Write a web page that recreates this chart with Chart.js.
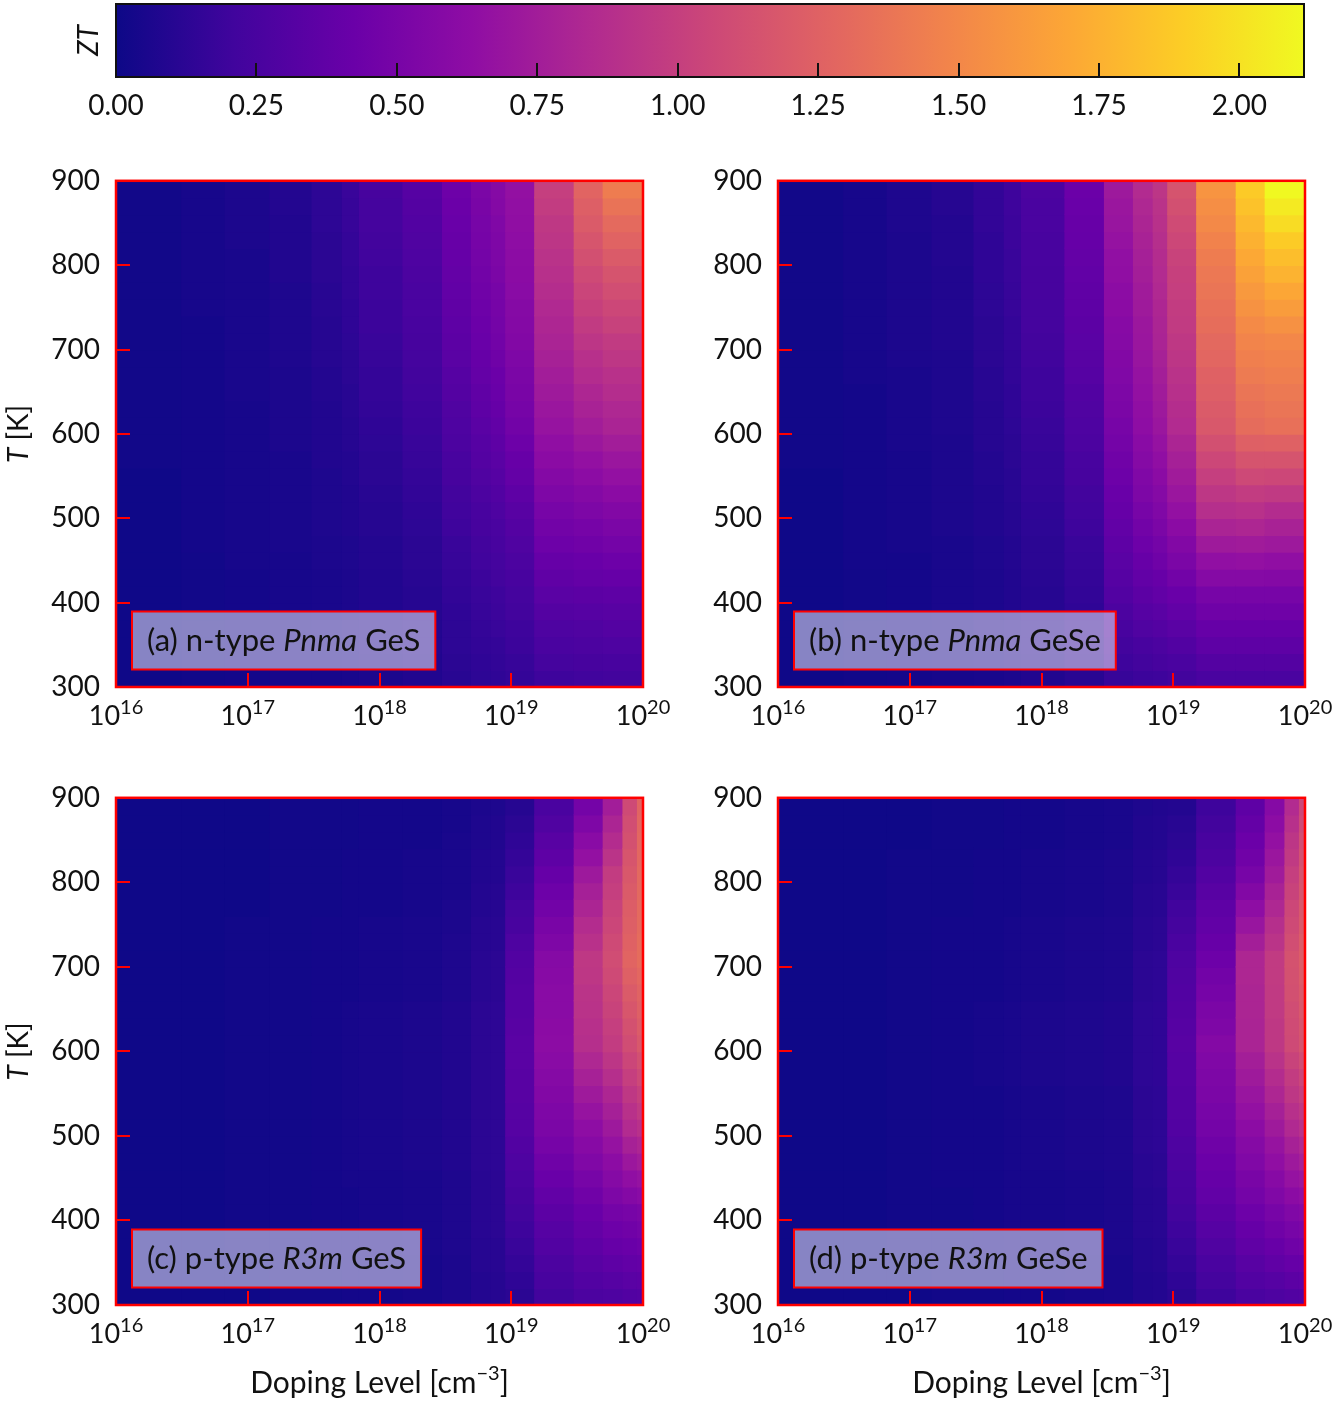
<!DOCTYPE html>
<html>
<head>
<meta charset="utf-8">
<title>ZT maps</title>
<script src="https://cdn.jsdelivr.net/npm/chart.js@4.4.1/dist/chart.umd.min.js"></script>
<style>
  html, body { margin: 0; padding: 0; background: #fff; overflow: hidden; }
  body { width: 1336px; height: 1402px; position: relative; }
  canvas { position: absolute; }
</style>
</head>
<body>
<canvas id="cbar" width="1336" height="140" style="left:0;top:0"></canvas>
<canvas id="panelA" width="700" height="636" style="left:0;top:134px"></canvas>
<canvas id="panelB" width="674" height="636" style="left:662px;top:134px"></canvas>
<canvas id="panelC" width="700" height="651" style="left:0;top:751px"></canvas>
<canvas id="panelD" width="674" height="651" style="left:662px;top:751px"></canvas>
<script>
// temperature row centres (K), 20 K wide rows
const temps = [310, 330, 350, 370, 390, 410, 430, 450, 470, 490, 510, 530, 550, 570, 590,
               610, 630, 650, 670, 690, 710, 730, 750, 770, 790, 810, 830, 850, 870, 890];
const tempTicks = [300, 400, 500, 600, 700, 800, 900];
const dopingTicks = [16, 17, 18, 19, 20];          // log10(cm^-3)
const cbarTicks = [0, 0.25, 0.5, 0.75, 1, 1.25, 1.5, 1.75, 2];
const zMax = 2.115;

// doping bin edges, log10(cm^-3)
const nEdges = [16, 16.5, 16.83, 17.17, 17.49, 17.72, 17.85, 18.18, 18.48, 18.7, 18.85, 18.96, 19.18, 19.48, 19.7, 20];
const pEdges = [16, 16.5, 16.83, 17.17, 17.49, 17.72, 17.85, 18.18, 18.48, 18.7, 18.85, 18.96, 19.18, 19.48, 19.7, 19.85, 19.96, 20];

// ZT x 100, one list per doping column, from 310 K up to 890 K
const ztA = [
  [1,1,1,1,1,1,1,1,1,1,1,1,1,2,2,2,2,2,2,2,2,2,2,2,2,2,2,2,2,2],
  [2,2,2,2,2,2,2,2,3,3,3,3,3,3,3,3,3,3,3,3,3,3,4,4,4,4,4,4,4,4],
  [3,3,3,3,3,3,3,4,4,4,4,4,4,4,4,4,4,5,5,5,5,5,5,5,5,5,6,6,6,6],
  [4,4,4,4,4,4,4,4,5,5,5,5,5,5,6,6,6,6,6,7,7,7,7,7,8,8,8,8,9,9],
  [4,4,4,5,5,5,5,6,6,7,7,7,7,8,8,8,8,9,9,10,10,10,11,11,12,12,12,13,13,13],
  [5,5,5,6,6,6,6,7,7,8,8,8,9,9,10,10,11,11,12,12,13,14,14,15,15,16,16,17,17,18],
  [6,6,7,7,8,8,8,9,9,10,10,11,12,12,13,14,15,16,16,17,18,19,19,20,20,21,22,23,23,24],
  [8,8,9,9,10,10,11,12,12,13,14,15,16,17,18,19,20,21,22,23,24,25,26,26,27,28,29,30,31,32],
  [11,12,13,13,14,15,16,17,18,20,21,22,24,25,27,28,29,31,32,34,35,36,37,38,39,40,41,42,43,44],
  [13,14,15,16,17,18,19,21,22,24,25,27,29,31,32,34,36,37,39,40,42,43,44,46,47,48,49,50,51,52],
  [14,15,16,18,19,20,22,23,25,26,28,30,32,34,36,38,40,42,43,45,47,48,49,50,52,53,54,55,57,58],
  [16,17,19,20,22,23,25,27,29,31,33,36,39,41,44,47,49,51,52,54,56,57,58,60,61,62,63,64,65,66],
  [20,23,26,28,31,34,37,40,44,47,50,54,57,61,64,68,70,73,75,78,80,82,84,87,89,91,93,95,98,100],
  [21,24,27,29,32,35,39,42,46,49,53,57,62,66,71,75,79,82,86,89,93,97,101,104,108,112,116,120,123,127],
  [22,25,28,31,33,36,40,44,48,52,56,61,66,70,75,80,83,87,90,94,97,102,106,111,115,120,126,131,137,143]
];
const ztB = [
  [1,1,1,1,1,1,1,1,1,1,1,1,1,2,2,2,2,2,2,2,2,2,2,2,2,2,2,2,2,2],
  [2,2,2,2,2,2,2,3,3,3,3,3,3,3,3,3,3,3,4,4,4,4,4,4,4,4,4,4,4,4],
  [3,3,3,3,3,3,3,3,4,4,4,4,4,4,5,5,5,5,5,6,6,6,6,6,6,6,6,7,7,7],
  [4,4,4,4,5,5,5,5,5,6,6,6,6,6,6,7,7,7,7,7,8,8,8,8,8,9,9,9,10,10],
  [5,5,5,6,6,6,6,7,7,8,8,8,9,9,10,10,10,11,11,12,12,12,13,13,14,14,14,15,15,15],
  [6,6,7,7,8,8,8,9,9,10,10,11,11,12,12,13,14,14,15,15,16,16,17,17,18,18,19,19,20,20],
  [8,8,9,9,10,10,11,12,12,13,14,15,16,16,17,18,19,20,20,21,22,23,23,24,24,25,25,26,26,27],
  [11,12,13,13,14,15,16,17,18,20,21,22,24,25,27,28,29,30,32,33,34,35,36,37,38,39,40,41,42,43],
  [17,20,22,25,27,30,32,34,36,38,40,42,44,46,48,50,52,53,55,56,58,59,61,62,64,65,67,69,70,72],
  [19,22,25,29,32,35,38,41,44,47,50,53,55,58,60,63,64,66,67,69,70,71,73,74,76,77,79,81,83,85],
  [20,24,27,31,34,38,41,45,48,52,55,58,61,64,67,70,72,74,76,78,80,81,82,84,85,86,88,90,91,93],
  [22,26,30,34,38,42,47,52,56,61,66,70,74,77,81,85,87,89,91,93,95,97,98,100,101,103,106,109,112,115],
  [26,31,36,40,45,50,58,65,73,80,88,94,100,106,112,118,120,123,125,128,130,133,135,138,140,143,147,151,154,158],
  [26,31,36,40,45,50,58,66,74,82,90,98,107,115,124,132,135,138,142,145,148,152,157,161,166,170,175,179,184,188],
  [26,31,36,40,45,50,57,64,72,79,86,96,106,115,125,135,138,141,144,147,150,156,163,169,176,182,189,197,204,211]
];
const ztC = [
  [1,1,1,1,1,1,1,1,1,1,1,1,1,1,1,1,1,1,1,1,1,1,1,1,1,1,1,1,1,1],
  [1,1,1,1,1,1,1,1,1,1,1,1,1,1,1,1,1,1,1,1,1,1,1,1,1,1,1,1,1,1],
  [1,1,1,2,2,2,2,2,2,2,2,2,2,2,2,2,2,2,2,2,2,2,2,1,1,1,1,1,1,1],
  [2,2,2,2,2,2,2,2,2,2,2,2,2,2,2,2,2,2,2,2,2,2,2,2,2,2,2,2,2,2],
  [2,2,2,3,3,3,3,3,3,3,3,3,3,3,3,3,3,3,3,3,3,3,3,2,2,2,2,2,2,2],
  [3,3,3,3,3,3,3,4,4,4,4,4,4,4,4,4,4,4,3,3,3,3,3,3,3,3,3,2,2,2],
  [3,3,3,4,4,4,4,4,5,5,5,5,5,5,5,5,5,5,4,4,4,4,4,3,3,3,3,3,3,3],
  [4,4,4,5,5,5,5,5,6,6,6,6,6,6,6,6,6,6,5,5,5,5,5,4,4,4,4,3,3,3],
  [6,6,6,7,7,7,7,7,8,8,8,8,8,8,8,8,8,8,7,7,7,7,6,6,5,5,5,5,4,4],
  [9,9,10,10,11,11,11,11,12,12,12,12,12,12,12,12,12,12,11,11,11,10,10,9,9,8,8,7,7,6],
  [10,10,11,11,12,12,12,12,13,13,13,13,13,13,13,13,13,13,12,12,12,11,11,10,10,9,9,8,8,7],
  [12,14,16,18,20,22,24,26,28,30,32,32,33,33,34,34,33,32,32,31,30,28,25,23,20,18,16,14,12,10],
  [22,25,27,30,32,35,38,42,45,49,52,54,56,58,60,62,61,60,60,59,58,54,51,47,44,40,36,33,29,26],
  [27,30,33,36,39,42,46,50,55,59,63,68,73,78,83,88,89,91,92,94,95,90,86,81,77,72,66,60,54,48],
  [28,32,36,40,44,48,53,58,62,67,72,77,82,88,93,98,100,103,105,108,110,108,105,103,100,98,92,86,81,75],
  [30,34,38,42,46,50,57,64,71,78,85,90,95,100,105,110,113,117,120,124,127,125,123,122,120,118,116,113,111,108],
  [31,35,39,44,48,52,60,67,75,82,90,96,101,107,112,118,121,124,126,129,132,132,131,131,130,130,129,129,128,127]
];
const ztD = [
  [1,1,1,1,1,1,1,1,1,1,1,1,1,1,1,1,1,1,1,1,1,1,1,1,1,1,1,1,1,1],
  [1,1,1,1,1,1,1,1,1,1,1,1,1,1,1,1,1,1,1,1,1,1,1,1,1,1,1,1,1,1],
  [1,1,1,2,2,2,2,2,2,2,2,2,2,2,2,2,2,2,2,2,2,2,2,2,2,2,2,1,1,1],
  [2,2,2,2,2,2,2,3,3,3,3,3,3,3,3,3,3,3,3,3,3,3,3,2,2,2,2,2,2,2],
  [2,2,2,3,3,3,3,3,3,3,3,3,3,4,4,4,4,4,3,3,3,3,3,3,3,3,3,2,2,2],
  [3,3,3,4,4,4,4,4,4,4,4,4,4,5,5,5,5,5,4,4,4,4,4,3,3,3,3,3,3,3],
  [3,3,3,4,4,4,4,4,5,5,5,5,5,6,6,6,6,6,5,5,5,5,5,4,4,4,4,3,3,3],
  [4,4,4,5,5,5,5,5,6,6,6,6,6,7,7,7,7,7,6,6,6,6,6,5,5,5,5,4,4,4],
  [5,5,5,6,6,6,6,6,7,7,7,7,7,8,8,8,8,8,7,7,7,7,7,6,6,6,6,5,5,5],
  [8,8,9,9,10,10,10,11,11,12,12,12,12,13,13,13,13,13,12,12,12,11,11,10,10,9,9,8,8,7],
  [9,9,10,10,11,11,11,12,12,13,13,13,13,14,14,14,14,14,13,13,13,12,12,11,11,10,10,9,9,8],
  [12,14,16,18,20,22,24,25,27,28,30,31,31,32,32,33,32,31,30,29,28,26,23,21,18,16,14,12,11,9],
  [20,23,26,29,32,35,38,40,43,45,48,50,52,53,55,57,54,52,49,47,44,41,38,36,33,30,27,25,22,20],
  [26,30,33,37,40,44,48,51,55,58,62,66,69,73,76,80,80,81,81,82,82,76,69,63,56,50,46,43,39,36],
  [28,32,37,41,46,50,55,59,64,68,73,77,82,86,91,95,95,96,96,97,97,92,88,83,79,74,70,66,62,58],
  [30,35,40,45,50,55,61,67,72,78,84,89,94,98,103,108,109,110,112,113,114,111,108,106,103,100,96,93,89,85],
  [31,36,41,47,52,57,64,70,77,83,90,95,100,105,110,115,116,118,119,121,122,121,119,118,116,115,113,111,108,106]
];

// panel captions: [plain, italic, plain]
const labelA = ['(a) n-type ', 'Pnma', ' GeS'];
const labelB = ['(b) n-type ', 'Pnma', ' GeSe'];
const labelC = ['(c) p-type ', 'R3m', ' GeS'];
const labelD = ['(d) p-type ', 'R3m', ' GeSe'];

Chart.defaults.font.family = 'Lato';

const plasmaStops = [
  [13, 8, 135], [65, 4, 157], [106, 0, 168], [143, 13, 164], [177, 42, 144],
  [204, 71, 120], [225, 100, 98], [242, 132, 75], [252, 166, 54], [252, 206, 37], [240, 249, 33]
];

function plasma(t) {
  t = Math.min(1, Math.max(0, t)) * 10;
  const i = Math.min(9, Math.floor(t));
  const f = t - i;
  const a = plasmaStops[i], b = plasmaStops[i + 1];
  const c = a.map((v, k) => Math.round(v + (b[k] - v) * f));
  return 'rgb(' + c.join(',') + ')';
}

// draw a row of text pieces centred on x; each piece {t, size, italic, dy}
function drawRuns(ctx, runs, x, y) {
  const fontOf = r => (r.italic ? 'italic ' : '') + r.size + 'px Lato';
  let total = 0;
  runs.forEach(r => { ctx.font = fontOf(r); r.w = ctx.measureText(r.t).width; total += r.w; });
  let cx = x - total / 2;
  ctx.textAlign = 'left';
  runs.forEach(r => {
    ctx.font = fontOf(r);
    ctx.fillText(r.t, cx, y + (r.dy || 0));
    cx += r.w;
  });
  return total;
}

function panelDecor(label, opts) {
  return {
    id: 'panelDecor',
    afterDraw(chart) {
      const ctx = chart.ctx;
      const ca = chart.chartArea;
      const xs = chart.scales.x;
      ctx.save();
      ctx.fillStyle = '#111';
      ctx.textBaseline = 'alphabetic';

      // doping tick labels 10^n
      dopingTicks.forEach(e => {
        const px = xs.getPixelForValue(Math.pow(10, e));
        drawRuns(ctx, [{ t: '10', size: 27 }, { t: String(e), size: 20, dy: -11 }], px, ca.bottom + 38);
      });

      // caption box
      const fs = 31;
      const runs = [{ t: label[0], size: fs }, { t: label[1], size: fs, italic: true }, { t: label[2], size: fs }];
      let tw = 0;
      runs.forEach(r => { ctx.font = (r.italic ? 'italic ' : '') + fs + 'px Lato'; tw += ctx.measureText(r.t).width; });
      const bw = tw + 30, bh = 58;
      const bx = ca.left + 16, by = ca.bottom - 17.5 - bh;
      ctx.fillStyle = 'rgba(255,255,255,0.5)';
      ctx.fillRect(bx, by, bw, bh);
      ctx.strokeStyle = '#ff0000';
      ctx.lineWidth = 2;
      ctx.strokeRect(bx, by, bw, bh);
      ctx.fillStyle = '#111';
      drawRuns(ctx, runs, bx + bw / 2, by + bh / 2 + 10);

      // axis titles
      if (opts.yTitle) {
        ctx.save();
        ctx.translate(18, (ca.top + ca.bottom) / 2);
        ctx.rotate(-Math.PI / 2);
        drawRuns(ctx, [{ t: 'T', size: 28, italic: true }, { t: ' [K]', size: 28 }], 0, 10);
        ctx.restore();
      }
      if (opts.xTitle) {
        drawRuns(ctx, [{ t: 'Doping Level [cm', size: 30 }, { t: '\u22123', size: 20, dy: -13 }, { t: ']', size: 30 }],
          (ca.left + ca.right) / 2, ca.bottom + 88);
      }

      // red frame
      ctx.strokeStyle = '#ff0000';
      ctx.lineWidth = 2.5;
      ctx.strokeRect(ca.left, ca.top, ca.right - ca.left, ca.bottom - ca.top);
      ctx.restore();
    }
  };
}

function makePanel(id, edges, zt, label, opts) {
  const cells = [];
  const colors = [];
  zt.forEach((col, j) => {
    col.forEach((v, i) => {
      cells.push({ x: [Math.pow(10, edges[j]), Math.pow(10, edges[j + 1])], y: temps[i] });
      colors.push(plasma(v / 100 / zMax));
    });
  });

  return new Chart(document.getElementById(id), {
    type: 'bar',
    data: {
      datasets: [{
        data: cells,
        backgroundColor: colors,
        borderWidth: 0,
        inflateAmount: 0.8,
        barPercentage: 1,
        categoryPercentage: 1
      }]
    },
    options: {
      indexAxis: 'y',
      responsive: false,
      animation: false,
      events: [],
      layout: { padding: { top: 0, right: opts.padRight, left: 0, bottom: 0 } },
      plugins: { legend: { display: false }, tooltip: { enabled: false } },
      scales: {
        x: {
          type: 'logarithmic',
          min: 1e16,
          max: 1e20,
          afterBuildTicks: s => { s.ticks = dopingTicks.map(e => ({ value: Math.pow(10, e) })); },
          afterFit: s => { s.height = opts.bottomH; },
          ticks: { display: false },
          grid: { offset: false, drawOnChartArea: false, tickLength: -14, color: '#ff0000', lineWidth: 2, z: 1 },
          border: { display: false }
        },
        y: {
          type: 'linear',
          min: 300,
          max: 900,
          offset: false,
          afterBuildTicks: s => { s.ticks = tempTicks.map(v => ({ value: v })); },
          afterFit: s => { s.width = 116; },
          ticks: { font: { size: 28 }, color: '#111', padding: 30, autoSkip: false },
          grid: { offset: false, drawOnChartArea: false, tickLength: -14, color: '#ff0000', lineWidth: 2, z: 1 },
          border: { display: false }
        }
      }
    },
    plugins: [panelDecor(label, opts)]
  });
}

makePanel('panelA', nEdges, ztA, labelA, { padRight: 57, bottomH: 83, yTitle: true });
makePanel('panelB', nEdges, ztB, labelB, { padRight: 31, bottomH: 83 });
makePanel('panelC', pEdges, ztC, labelC, { padRight: 57, bottomH: 97, yTitle: true, xTitle: true });
makePanel('panelD', pEdges, ztD, labelD, { padRight: 31, bottomH: 97, xTitle: true });

// colour bar
const cbarDecor = {
  id: 'cbarDecor',
  afterDraw(chart) {
    const ctx = chart.ctx;
    const ca = chart.chartArea;
    ctx.save();
    ctx.strokeStyle = '#111';
    ctx.lineWidth = 2;
    ctx.strokeRect(ca.left, ca.top, ca.right - ca.left, ca.bottom - ca.top);
    ctx.fillStyle = '#111';
    ctx.textBaseline = 'alphabetic';
    ctx.translate(88, (ca.top + ca.bottom) / 2);
    ctx.rotate(-Math.PI / 2);
    drawRuns(ctx, [{ t: 'ZT', size: 28, italic: true }], 0, 10);
    ctx.restore();
  }
};

new Chart(document.getElementById('cbar'), {
  type: 'bar',
  data: {
    labels: ['ZT'],
    datasets: [{
      data: [[0, zMax]],
      backgroundColor: c => {
        const ca = c.chart.chartArea;
        if (!ca) return plasma(0.5);
        const g = c.chart.ctx.createLinearGradient(ca.left, 0, ca.right, 0);
        plasmaStops.forEach((s, k) => g.addColorStop(k / 10, 'rgb(' + s.join(',') + ')'));
        return g;
      },
      borderWidth: 0,
      barPercentage: 1,
      categoryPercentage: 1
    }]
  },
  options: {
    indexAxis: 'y',
    responsive: false,
    animation: false,
    events: [],
    layout: { padding: { left: 116, right: 32, top: 4, bottom: 0 } },
    plugins: { legend: { display: false }, tooltip: { enabled: false } },
    scales: {
      x: {
        type: 'linear',
        min: 0,
        max: zMax,
        afterBuildTicks: s => { s.ticks = cbarTicks.map(v => ({ value: v })); },
        afterFit: s => { s.height = 63; },
        ticks: { callback: v => Number(v).toFixed(2), font: { size: 28 }, color: '#111', padding: 26, maxRotation: 0, autoSkip: false },
        grid: { drawOnChartArea: false, tickLength: -14, color: '#111', lineWidth: 2, z: 1 },
        border: { display: false }
      },
      y: { display: false }
    }
  },
  plugins: [cbarDecor]
});
</script>
</body>
</html>
